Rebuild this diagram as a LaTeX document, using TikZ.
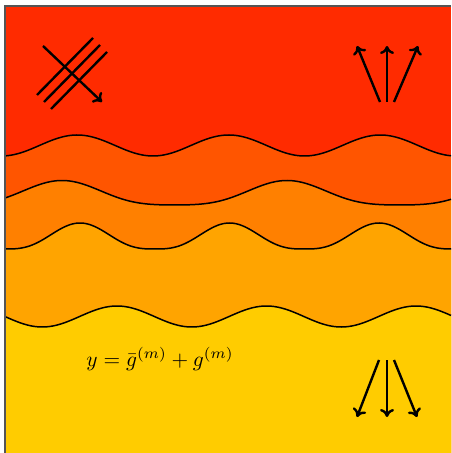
\documentclass[tikz,border=0pt]{standalone}
\usepackage{amsmath}
\usetikzlibrary{arrows.meta}
\definecolor{layerA}{HTML}{FF2B00}
\definecolor{layerB}{HTML}{FF5500}
\definecolor{layerC}{HTML}{FF8000}
\definecolor{layerD}{HTML}{FFA400}
\definecolor{layerE}{HTML}{FFCC00}
\definecolor{frame}{HTML}{555555}
\begin{document}
\begin{tikzpicture}[x=0.5pt,y=-0.5pt,
    wave/.style={line width=0.75pt,black},
    flow/.style={very thick,-{To[length=4pt,width=7pt]}}]
  \useasboundingbox (0,0) rectangle (451,453);
  % layers, top to bottom
  \fill[layerA] (5,6) rectangle (451,453);
  \fill[layerB] plot[domain=5:451,samples=200] (\x,{145.5+10.5*cos(360/151.5*(\x-1.5))}) -- (451,453) -- (5,453) -- cycle;
  \draw[wave] plot[domain=5:451,samples=200] (\x,{145.5+10.5*cos(360/151.5*(\x-1.5))});
  \fill[layerC] plot[domain=5:451,samples=200] (\x,{195.25-12.25*cos(360/225*(\x-62))-2.5*cos(720/225*(\x-62))}) -- (451,453) -- (5,453) -- cycle;
  \draw[wave] plot[domain=5:451,samples=200] (\x,{195.25-12.25*cos(360/225*(\x-62))-2.5*cos(720/225*(\x-62))});
  \fill[layerD] plot[domain=5:451,samples=200] (\x,{249-26*((1.0001+cos(360/149.5*(\x-80)))/2)^1.5}) -- (451,453) -- (5,453) -- cycle;
  \draw[wave] plot[domain=5:451,samples=200] (\x,{249-26*((1.0001+cos(360/149.5*(\x-80)))/2)^1.5});
  \fill[layerE] plot[domain=5:451,samples=200] (\x,{316.5-10.5*cos(360/149.5*(\x-117))}) -- (451,453) -- (5,453) -- cycle;
  \draw[wave] plot[domain=5:451,samples=200] (\x,{316.5-10.5*cos(360/149.5*(\x-117))});
  % frame
  \draw[frame,line width=1pt] (5,453) -- (5,6) -- (451,6);
  % crossed stripes, top left
  \foreach \d in {0,7,14}
    \draw[very thick] (37+\d,95+\d) -- (93+\d,38+\d);
  \draw[flow] (43,46) -- (102,102);
  % rising fan
  \foreach \xs/\xe in {380/357,387/387,394/418}
    \draw[flow] (\xs,102) -- (\xe,46);
  % falling fan
  \foreach \xs/\xe in {379/357,387/387,394/417}
    \draw[flow] (\xs,360) -- (\xe,417);
  \node[scale=1.07] (eqn) at (160,359) {$y=\bar g^{(m)}+g^{(m)}$};
\end{tikzpicture}
\end{document}
